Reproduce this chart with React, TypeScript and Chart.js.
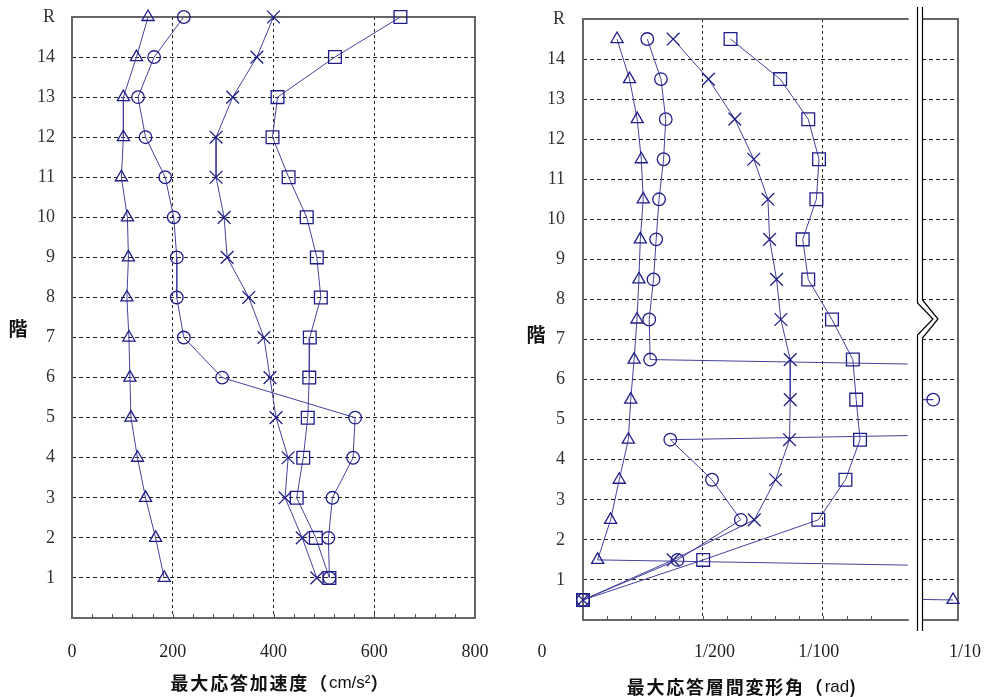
import React, { useEffect, useRef } from "react";
import { Chart, registerables } from "chart.js";

Chart.register(...registerables);

// ---------------- data ----------------
// Left panel: maximum response acceleration (cm/s2) per floor (R = 15)
const LEFT_LEVELS = [15, 14, 13, 12, 11, 10, 9, 8, 7, 6, 5, 4, 3, 2, 1];
const ACC_TRIANGLE = [151, 128, 102, 102, 98, 110, 112, 109, 113, 115, 117, 130, 146, 166, 183];
const ACC_CIRCLE = [222, 163, 131, 146, 185, 202, 208, 208, 222, 298, 562, 558, 517, 509, 511];
const ACC_CROSS = [400, 367, 319, 286, 286, 302, 308, 351, 381, 393, 405, 429, 423, 457, 486];
const ACC_SQUARE = [652, 522, 408, 398, 430, 466, 486, 494, 472, 471, 468, 459, 446, 484, 511];

// Right panel: maximum story drift angle (rad), plotted at mid-story levels
const RIGHT_LEVELS = [14.5, 13.5, 12.5, 11.5, 10.5, 9.5, 8.5, 7.5, 6.5, 5.5, 4.5, 3.5, 2.5, 1.5, 0.5];
const DRIFT_TRIANGLE = [0.00142, 0.00194, 0.00226, 0.00243, 0.00251, 0.00239, 0.00233, 0.00225, 0.00213, 0.00199, 0.00189, 0.00151, 0.00115, 0.00061, 0.0998];
const DRIFT_CIRCLE = [0.00268, 0.00325, 0.00345, 0.00336, 0.00317, 0.00305, 0.00294, 0.00276, 0.0028, 0.099, 0.00364, 0.00538, 0.00658, 0.00394, 0];
const DRIFT_CROSS = [0.00376, 0.00523, 0.00633, 0.00712, 0.00771, 0.00778, 0.00807, 0.00825, 0.00864, 0.00864, 0.00861, 0.00803, 0.00714, 0.00376, 0];
const DRIFT_SQUARE = [0.00615, 0.00822, 0.00939, 0.00984, 0.00973, 0.00916, 0.00939, 0.01038, 0.01125, 0.01139, 0.01155, 0.01094, 0.00981, 0.00501, 0];

// Axis labels
const FLOOR_LABELS = ["", "1", "2", "3", "4", "5", "6", "7", "8", "9", "10", "11", "12", "13", "14", "R"];
const ACC_TICK_VALUES = [0, 200, 400, 600, 800];
const ACC_TICK_LABELS = ["0", "200", "400", "600", "800"];
const DRIFT_TICK_VALUES = [0, 0.005, 0.01];
const DRIFT_TICK_LABELS = ["0", "1/200", "1/100"];
const DRIFT_FAR_VALUES = [0.1];
const DRIFT_FAR_LABELS = ["1/10"];
const ACC_TITLE = ["最大応答加速度（", "cm/s²", "）"];
const DRIFT_TITLE = ["最大応答層間変形角（", "rad", ")"];
const Y_TITLE = "階";

// ---------------- styles ----------------
const LINE_COLOR = "#42429e";
const MARK_COLOR = "#1e1e88";
const FRAME_COLOR = "#666666";
const GRID_COLOR = "#222222";
const FONT_SERIF = '"Liberation Serif", "Times New Roman", serif';
const FONT_CJK = '"Noto Sans CJK JP", "Noto Sans CJK SC", sans-serif';
const FONT_LATIN = '"Liberation Sans", Arial, sans-serif';

const ACC_MAX = 800;
const DRIFT_MAIN_MAX = 0.013537;
const DRIFT_FAR_MIN = 0.09856;
const DRIFT_FAR_MAX = 0.1;

type Marker = "triangle" | "circle" | "crossRot" | "rect";
const MARKERS: { style: Marker; radius: number }[] = [
  { style: "triangle", radius: 7 },
  { style: "circle", radius: 6.3 },
  { style: "crossRot", radius: 9 },
  { style: "rect", radius: 9 },
];

function series(xs: number[], ys: number[], idx: number, clip: any) {
  const m = MARKERS[idx];
  return {
    data: xs.map((x, i) => ({ x, y: ys[i] })),
    borderColor: LINE_COLOR,
    borderWidth: 1,
    pointStyle: m.style,
    pointRadius: m.radius,
    pointHoverRadius: m.radius,
    pointBorderColor: MARK_COLOR,
    pointBorderWidth: 1.3,
    pointBackgroundColor: "rgba(0,0,0,0)",
    fill: false,
    tension: 0,
    clip,
  };
}

function near(a: number, b: number) {
  return Math.abs(a - b) < 1e-9;
}

function setSpacing(ctx: CanvasRenderingContext2D, spacing: string) {
  try {
    (ctx as any).letterSpacing = spacing;
  } catch (e) {}
}

function drawText(ctx: CanvasRenderingContext2D, text: string, x: number, y: number, font: string, color: string, align: CanvasTextAlign = "center", spacing = "0px") {
  ctx.save();
  ctx.font = font;
  ctx.fillStyle = color;
  ctx.textAlign = align;
  ctx.textBaseline = "middle";
  setSpacing(ctx, spacing);
  ctx.fillText(text, x, y);
  ctx.restore();
}

// title: CJK part (bold, spaced) + latin unit part (regular, compact) + closing paren
function drawTitle(ctx: CanvasRenderingContext2D, parts: string[], cx: number, y: number) {
  ctx.save();
  ctx.textBaseline = "middle";
  ctx.textAlign = "left";
  ctx.fillStyle = "#111";
  const fonts = [`bold 18px ${FONT_CJK}`, `17px ${FONT_LATIN}`, `bold 18px ${FONT_CJK}`];
  const spacings = ["1.8px", "0px", "0px"];
  const widths = parts.map((p, i) => {
    ctx.font = fonts[i];
    setSpacing(ctx, spacings[i]);
    return ctx.measureText(p).width;
  });
  let x = cx - widths.reduce((a, b) => a + b, 0) / 2;
  parts.forEach((p, i) => {
    ctx.font = fonts[i];
    setSpacing(ctx, spacings[i]);
    ctx.fillText(p, x, y);
    x += widths[i];
  });
  ctx.restore();
}

function drawFrame(ctx: CanvasRenderingContext2D, ca: any, sides: { left?: boolean; right?: boolean; top?: boolean; bottom?: boolean }) {
  ctx.save();
  ctx.strokeStyle = FRAME_COLOR;
  ctx.lineWidth = 2;
  ctx.lineCap = "square";
  ctx.beginPath();
  if (sides.top) { ctx.moveTo(ca.left, ca.top); ctx.lineTo(ca.right, ca.top); }
  if (sides.bottom) { ctx.moveTo(ca.left, ca.bottom); ctx.lineTo(ca.right, ca.bottom); }
  if (sides.left) { ctx.moveTo(ca.left, ca.top); ctx.lineTo(ca.left, ca.bottom); }
  if (sides.right) { ctx.moveTo(ca.right, ca.top); ctx.lineTo(ca.right, ca.bottom); }
  ctx.stroke();
  ctx.restore();
}

function drawMinorTicks(ctx: CanvasRenderingContext2D, xs: any, bottom: number) {
  ctx.save();
  ctx.strokeStyle = "#555";
  ctx.lineWidth = 1;
  ctx.beginPath();
  xs.ticks.forEach((t: any) => {
    if (t.value > xs.min + 1e-9 && t.value < xs.max - 1e-9) {
      const px = Math.round(xs.getPixelForValue(t.value)) + 0.5;
      ctx.moveTo(px, bottom);
      ctx.lineTo(px, bottom - 4);
    }
  });
  ctx.stroke();
  ctx.restore();
}

function drawFloorLabels(ctx: CanvasRenderingContext2D, ys: any, x: number) {
  ys.ticks.forEach((t: any) => {
    const s = FLOOR_LABELS[Math.round(t.value)];
    if (s) drawText(ctx, s, x, ys.getPixelForValue(t.value), `18px ${FONT_SERIF}`, "#333", "right");
  });
}

const yAxis = (width: number) => ({
  type: "linear" as const,
  min: 0,
  max: 15,
  ticks: { stepSize: 1, display: false },
  grid: {
    color: (c: any) => (c.tick && c.tick.value > 0.5 && c.tick.value < 14.5 ? GRID_COLOR : "rgba(0,0,0,0)"),
    drawTicks: false,
    lineWidth: 1,
  },
  border: { display: false, dash: [4, 3] },
  afterFit: (s: any) => { s.width = width; },
});

const baseOptions = {
  animation: false as const,
  responsive: false,
  maintainAspectRatio: false,
  events: [] as any[],
  plugins: { legend: { display: false }, tooltip: { enabled: false } },
};

function leftConfig(): any {
  const decor = {
    id: "leftDecor",
    beforeDatasetsDraw(chart: any) {
      const { ctx, chartArea: ca, scales } = chart;
      drawFrame(ctx, ca, { left: true, right: true, top: true, bottom: true });
      drawMinorTicks(ctx, scales.x, ca.bottom);
    },
    afterDraw(chart: any) {
      const { ctx, chartArea: ca, scales } = chart;
      drawFloorLabels(ctx, scales.y, ca.left - 17);
      ACC_TICK_VALUES.forEach((v, i) =>
        drawText(ctx, ACC_TICK_LABELS[i], scales.x.getPixelForValue(v), 652, `18px ${FONT_SERIF}`, "#222"));
      drawTitle(ctx, ACC_TITLE, (ca.left + ca.right) / 2 + 6, 683);
      drawText(ctx, Y_TITLE, 18, 329, `bold 19px ${FONT_CJK}`, "#111");
    },
  };
  return {
    type: "line",
    data: {
      datasets: [
        series(ACC_TRIANGLE, LEFT_LEVELS, 0, false),
        series(ACC_CIRCLE, LEFT_LEVELS, 1, false),
        series(ACC_CROSS, LEFT_LEVELS, 2, false),
        series(ACC_SQUARE, LEFT_LEVELS, 3, false),
      ],
    },
    options: {
      ...baseOptions,
      layout: { padding: { top: 17, right: 25, left: 0, bottom: 0 } },
      scales: {
        x: {
          type: "linear",
          min: 0,
          max: ACC_MAX,
          ticks: { stepSize: 40, display: false },
          grid: {
            color: (c: any) => (c.tick && [200, 400, 600].some((v) => near(v, c.tick.value)) ? GRID_COLOR : "rgba(0,0,0,0)"),
            drawTicks: false,
          },
          border: { display: false, dash: [3, 3] },
          afterFit: (s: any) => { s.height = 79; },
        },
        y: yAxis(72),
      },
    },
    plugins: [decor],
  };
}

function rightConfig(): any {
  const clip = { left: 15, top: 15, right: 0, bottom: 15 };
  const decor = {
    id: "rightDecor",
    beforeDatasetsDraw(chart: any) {
      const { ctx, chartArea: ca, scales } = chart;
      drawFrame(ctx, ca, { left: true, top: true, bottom: true });
      drawMinorTicks(ctx, scales.x, ca.bottom);
    },
    afterDraw(chart: any) {
      const { ctx, chartArea: ca, scales } = chart;
      drawFloorLabels(ctx, scales.y, ca.left - 18);
      const shift = [-41, 11.5, -4];
      DRIFT_TICK_VALUES.forEach((v, i) =>
        drawText(ctx, DRIFT_TICK_LABELS[i], scales.x.getPixelForValue(v) + shift[i], 652, `18px ${FONT_SERIF}`, "#222"));
      drawTitle(ctx, DRIFT_TITLE, (ca.left + ca.right) / 2 - 4, 687);
      drawText(ctx, Y_TITLE, 36, 335, `bold 19px ${FONT_CJK}`, "#111");
    },
  };
  return {
    type: "line",
    data: {
      datasets: [
        series(DRIFT_TRIANGLE, RIGHT_LEVELS, 0, clip),
        series(DRIFT_CIRCLE, RIGHT_LEVELS, 1, clip),
        series(DRIFT_CROSS, RIGHT_LEVELS, 2, clip),
        series(DRIFT_SQUARE, RIGHT_LEVELS, 3, clip),
      ],
    },
    options: {
      ...baseOptions,
      layout: { padding: { top: 19, right: 0.5, left: 0, bottom: 0 } },
      scales: {
        x: {
          type: "linear",
          min: 0,
          max: DRIFT_MAIN_MAX,
          ticks: { stepSize: 0.001, display: false },
          grid: {
            color: (c: any) => (c.tick && [0.005, 0.01].some((v) => near(v, c.tick.value)) ? GRID_COLOR : "rgba(0,0,0,0)"),
            drawTicks: false,
          },
          border: { display: false, dash: [3, 3] },
          afterFit: (s: any) => { s.height = 77; },
        },
        y: yAxis(83),
      },
    },
    plugins: [decor],
  };
}

function insetConfig(): any {
  const clip = { left: 0, top: 15, right: 15, bottom: 15 };
  const decor = {
    id: "insetDecor",
    beforeDatasetsDraw(chart: any) {
      const { ctx, chartArea: ca, scales } = chart;
      drawFrame(ctx, ca, { right: true, top: true, bottom: true });
      drawMinorTicks(ctx, scales.x, ca.bottom);
    },
    afterDraw(chart: any) {
      const { ctx, scales } = chart;
      DRIFT_FAR_VALUES.forEach((v, i) =>
        drawText(ctx, DRIFT_FAR_LABELS[i], scales.x.getPixelForValue(v) + 7, 652, `18px ${FONT_SERIF}`, "#222"));
      // axis break symbol (double line with a zigzag)
      const L: [number, number][] = [[17.5, 7], [17.5, 303], [33, 319], [17.5, 335], [17.5, 631]];
      const R: [number, number][] = [[22.5, 7], [22.5, 300], [38, 319], [22.5, 338], [22.5, 631]];
      ctx.save();
      ctx.fillStyle = "#fff";
      ctx.beginPath();
      L.forEach(([x, y], i) => (i ? ctx.lineTo(x, y) : ctx.moveTo(x, y)));
      [...R].reverse().forEach(([x, y]) => ctx.lineTo(x, y));
      ctx.closePath();
      ctx.fill();
      ctx.strokeStyle = "#000";
      ctx.lineWidth = 1.2;
      [L, R].forEach((pts) => {
        ctx.beginPath();
        pts.forEach(([x, y], i) => (i ? ctx.lineTo(x, y) : ctx.moveTo(x, y)));
        ctx.stroke();
      });
      ctx.restore();
    },
  };
  return {
    type: "line",
    data: {
      datasets: [
        series(DRIFT_TRIANGLE, RIGHT_LEVELS, 0, clip),
        series(DRIFT_CIRCLE, RIGHT_LEVELS, 1, clip),
        series(DRIFT_CROSS, RIGHT_LEVELS, 2, clip),
        series(DRIFT_SQUARE, RIGHT_LEVELS, 3, clip),
      ],
    },
    options: {
      ...baseOptions,
      layout: { padding: { top: 19, right: 32, left: 22.3, bottom: 0 } },
      scales: {
        x: {
          type: "linear",
          min: DRIFT_FAR_MIN,
          max: DRIFT_FAR_MAX,
          ticks: { stepSize: 0.001, display: false },
          grid: { color: "rgba(0,0,0,0)", drawTicks: false },
          border: { display: false },
          afterFit: (s: any) => { s.height = 77; },
        },
        y: yAxis(0),
      },
    },
    plugins: [decor],
  };
}

export default function App() {
  const leftRef = useRef<HTMLCanvasElement>(null);
  const rightRef = useRef<HTMLCanvasElement>(null);
  const insetRef = useRef<HTMLCanvasElement>(null);

  useEffect(() => {
    const charts = [
      new Chart(leftRef.current as HTMLCanvasElement, leftConfig()),
      new Chart(rightRef.current as HTMLCanvasElement, rightConfig()),
      new Chart(insetRef.current as HTMLCanvasElement, insetConfig()),
    ];
    return () => charts.forEach((c) => c.destroy());
  }, []);

  return (
    <div style={{ position: "absolute", left: 0, top: 0, width: 990, height: 697, background: "#fff", overflow: "hidden" }}>
      <canvas ref={leftRef} width={500} height={697} style={{ position: "absolute", left: 0, top: 0 }} />
      <canvas ref={rightRef} width={418} height={697} style={{ position: "absolute", left: 500, top: 0 }} />
      <canvas ref={insetRef} width={90} height={697} style={{ position: "absolute", left: 900, top: 0 }} />
    </div>
  );
}
